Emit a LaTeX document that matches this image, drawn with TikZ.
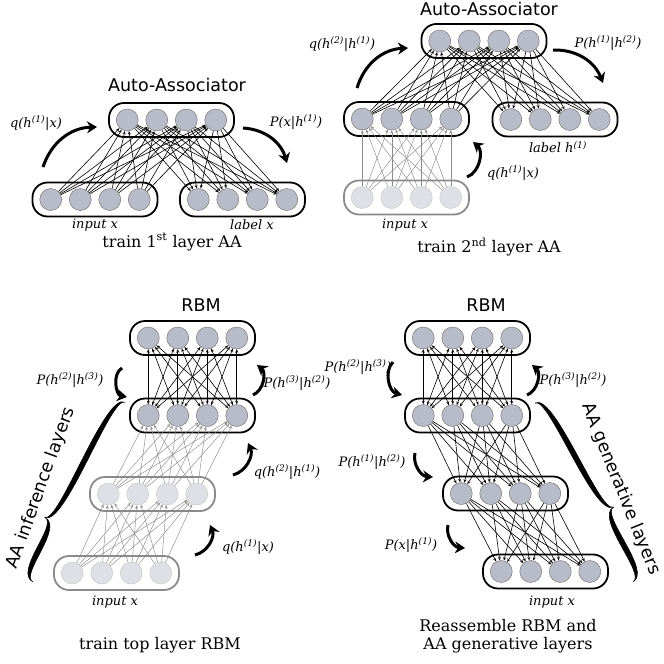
\documentclass[tikz,border=0pt]{standalone}
\usepackage{fontspec}
\setmainfont{DejaVu Serif}
\setsansfont{DejaVu Sans}
\usetikzlibrary{arrows.meta}
\definecolor{nodefill}{HTML}{B8BCC8}
\definecolor{fadefill}{HTML}{DFE0E6}
\definecolor{fadeline}{HTML}{8A8A8A}
\tikzset{
  lbox/.style={draw, line width=1.8pt, rounded corners=15pt, fill=white,
    minimum width=125pt, minimum height=34pt, inner sep=0pt},
  fbox/.style={lbox, draw=fadeline},
  unit/.style={circle, draw=gray!85!black, line width=0.4pt, fill=nodefill,
    minimum size=22pt, inner sep=0pt},
  funit/.style={unit, draw=gray!45, fill=fadefill},
  cup/.style={line width=0.6pt, -{Stealth[length=3.5pt,width=3pt,fill=white]}},
  crbm/.style={line width=0.6pt, {Stealth[length=3.5pt,width=3pt,fill=white]}-{Stealth[length=3.5pt,width=3pt,fill=white]}},
  cfade/.style={line width=0.45pt, draw=fadeline, -{Stealth[length=3.5pt,width=3pt,fill=white]}},
  bigarr/.style={line width=3pt, -{Stealth[length=10pt,width=12pt]}},
  lab/.style={font=\fontsize{13}{15}\selectfont\itshape, inner sep=0pt},
  ttl/.style={font=\sffamily\fontsize{17.5}{20}\selectfont, inner sep=0pt},
  captxt/.style={font=\fontsize{16}{18}\selectfont, align=center, inner sep=0pt},
  sidetxt/.style={font=\sffamily\fontsize{17.5}{21}\selectfont, inner sep=0pt},
  bracefill/.style={fill=black, draw=black, line width=0.5pt, line join=round}
}
\newcommand{\mklayer}[5]{%
  \node[#4] (#1) at (#2,#3) {};
  \foreach \k/\dx in {1/-44.25,2/-14.75,3/14.75,4/44.25}
    \node[#5] (#1\k) at (#2+\dx,#3) {};
}
\newcommand{\allconn}[3]{%
  \foreach \ii in {1,...,4}{\foreach \jj in {1,...,4}{\draw[#3] (#1\ii) -- (#2\jj);}}
}
% calligraphic brace in local frame: length #1, tip position #2, amplitude #3, half-thickness control #4
\newcommand{\calbrace}[4]{%
  \fill[bracefill] (0,0) .. controls (0,#3+#4) and (#2,#4) .. (#2,#3)
     .. controls (#2,-#4) and (0,#3-#4) .. (0,0) -- cycle;
  \fill[bracefill] (#2,#3) .. controls (#2,#4) and (#1,#3+#4) .. (#1,0)
     .. controls (#1,#3-#4) and (#2,-#4) .. (#2,#3) -- cycle;
}
\begin{document}
\begin{tikzpicture}[x=1pt,y=-1pt]
\useasboundingbox (0,0) rectangle (664,664);

% ---------- Panel 1 ----------
\mklayer{pAtop}{171.5}{120}{lbox}{unit}
\mklayer{pAin}{95}{199.5}{lbox}{unit}
\mklayer{pAlab}{242.5}{199.5}{lbox}{unit}
\allconn{pAin}{pAtop}{cup}
\allconn{pAtop}{pAlab}{cup}
\node[ttl] (tA) at (177,85) {Auto-Associator};
\node[lab] (inA) at (95,225) {input x};
\node[lab] (lbA) at (252,225) {label x};
\node[captxt] (cA) at (172,242) {train 1\textsuperscript{st} layer AA};
\node[lab] (qA) at (36,123) {q(h\textsuperscript{(1)}|x)};
\node[lab] (PA) at (296,122) {P(x|h\textsuperscript{(1)})};
\coordinate (qAs) at (43,167); \coordinate (qAe) at (97,127);
\coordinate (PAs) at (243,128); \coordinate (PAe) at (287,163);
\draw[bigarr] (qAs) to[bend left=35] (qAe);
\draw[bigarr] (PAs) to[bend left=35] (PAe);

% ---------- Panel 2 ----------
\mklayer{pBtop}{484}{41}{lbox}{unit}
\mklayer{pBh}{406.5}{119}{lbox}{unit}
\mklayer{pBlab}{555}{119.5}{lbox}{unit}
\mklayer{pBin}{406.5}{197.5}{fbox}{funit}
\allconn{pBh}{pBtop}{cup}
\allconn{pBtop}{pBlab}{cup}
\allconn{pBin}{pBh}{cfade}
\node[ttl] (tB) at (489,9) {Auto-Associator};
\node[lab] (inB) at (405,225) {input x};
\node[lab] (lbB) at (558,147) {label h\textsuperscript{(1)}};
\node[captxt] (cB) at (489,247) {train 2\textsuperscript{nd} layer AA};
\node[lab] (qB) at (342,44) {q(h\textsuperscript{(2)}|h\textsuperscript{(1)})};
\node[lab] (PB) at (608,43) {P(h\textsuperscript{(1)}|h\textsuperscript{(2)})};
\node[lab] (qB2) at (513,173) {q(h\textsuperscript{(1)}|x)};
\coordinate (qBs) at (357,88); \coordinate (qBe) at (408,48);
\coordinate (PBs) at (553,50); \coordinate (PBe) at (603,83);
\coordinate (qB2s) at (467,177); \coordinate (qB2e) at (473,142);
\draw[bigarr] (qBs) to[bend left=35] (qBe);
\draw[bigarr] (PBs) to[bend left=35] (PBe);
\draw[bigarr] (qB2s) to[bend right=60] (qB2e);

% ---------- Panel 3 ----------
\mklayer{pCtop}{192.5}{338}{lbox}{unit}
\mklayer{pCh2}{192.5}{415.5}{lbox}{unit}
\mklayer{pCh1}{152.5}{494}{fbox}{funit}
\mklayer{pCin}{116.5}{573}{fbox}{funit}
\allconn{pCtop}{pCh2}{crbm}
\allconn{pCh1}{pCh2}{cfade}
\allconn{pCin}{pCh1}{cfade}
\node[ttl] (tC) at (201,305) {RBM};
\node[lab] (inC) at (115,602) {input x};
\node[captxt] (cC) at (160,645) {train top layer RBM};
\node[lab] (PC1) at (70,380) {P(h\textsuperscript{(2)}|h\textsuperscript{(3)})};
\node[lab] (PC2) at (297,383) {P(h\textsuperscript{(3)}|h\textsuperscript{(2)})};
\node[lab] (qC1) at (287,472) {q(h\textsuperscript{(2)}|h\textsuperscript{(1)})};
\node[lab] (qC2) at (248,547) {q(h\textsuperscript{(1)}|x)};
\coordinate (PC1s) at (122,368); \coordinate (PC1e) at (127,397);
\coordinate (PC2s) at (253,395); \coordinate (PC2e) at (257,365);
\coordinate (qC1s) at (233,475); \coordinate (qC1e) at (248,443);
\coordinate (qC2s) at (195,555); \coordinate (qC2e) at (210,525);
\draw[bigarr] (PC1s) to[bend right=70] (PC1e);
\draw[bigarr] (PC2s) to[bend right=60] (PC2e);
\draw[bigarr] (qC1s) to[bend right=50] (qC1e);
\draw[bigarr] (qC2s) to[bend right=50] (qC2e);
\coordinate (brCa) at (33,582);
\begin{scope}[shift={(brCa)}, rotate=62.9, x=1pt, y=1pt]
  \calbrace{202}{63}{19}{3.4}
\end{scope}
\node[sidetxt, rotate=70] (sC) at (41,488) {AA inference layers};

% ---------- Panel 4 ----------
\mklayer{pDtop}{467.5}{338}{lbox}{unit}
\mklayer{pDh2}{467.5}{415.5}{lbox}{unit}
\mklayer{pDh1}{505.5}{493.5}{lbox}{unit}
\mklayer{pDin}{545.5}{571.5}{lbox}{unit}
\allconn{pDtop}{pDh2}{crbm}
\allconn{pDh2}{pDh1}{cup}
\allconn{pDh1}{pDin}{cup}
\node[ttl] (tD) at (486,305) {RBM};
\node[lab] (inD) at (552,602) {input x};
\node[captxt] (cD) at (508,636.5) {Reassemble RBM and\\AA generative layers};
\node[lab] (PD1) at (358,367) {P(h\textsuperscript{(2)}|h\textsuperscript{(3)})};
\node[lab] (PD2) at (573,380) {P(h\textsuperscript{(3)}|h\textsuperscript{(2)})};
\node[lab] (PD3) at (372,462) {P(h\textsuperscript{(1)}|h\textsuperscript{(2)})};
\node[lab] (PD4) at (411,545) {P(x|h\textsuperscript{(1)})};
\coordinate (PD1s) at (393,362); \coordinate (PD1e) at (402,395);
\coordinate (PD2s) at (527,395); \coordinate (PD2e) at (532,365);
\coordinate (PD3s) at (415,453); \coordinate (PD3e) at (433,477);
\coordinate (PD4s) at (448,525); \coordinate (PD4e) at (465,548);
\draw[bigarr] (PD1s) to[bend right=60] (PD1e);
\draw[bigarr] (PD2s) to[bend right=60] (PD2e);
\draw[bigarr] (PD3s) to[bend right=50] (PD3e);
\draw[bigarr] (PD4s) to[bend right=50] (PD4e);
\coordinate (brDa) at (535,403);
\begin{scope}[shift={(brDa)}, rotate=-61.3, x=1pt, y=1pt]
  \calbrace{204}{129}{19}{3.4}
\end{scope}
\node[sidetxt, rotate=-68] (sD) at (621,489) {AA generative layers};
\end{tikzpicture}
\end{document}
